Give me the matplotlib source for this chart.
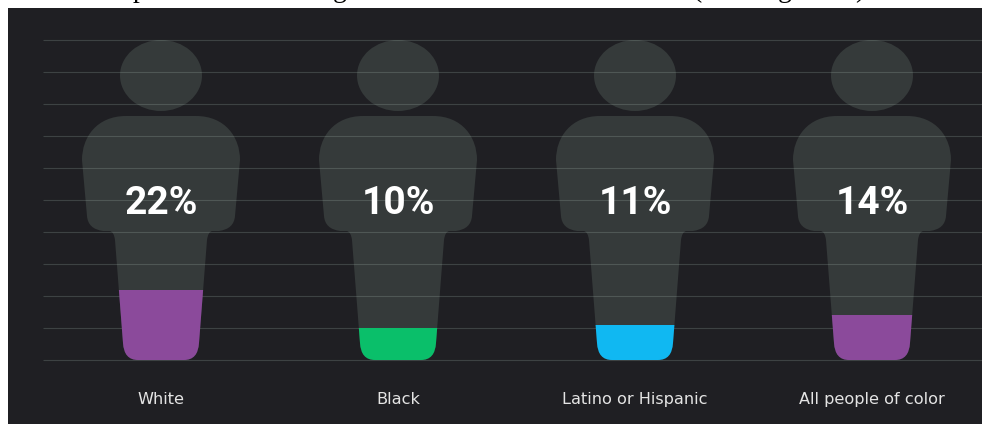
import numpy as np
import matplotlib
matplotlib.use("Agg")
import matplotlib.pyplot as plt
from matplotlib.path import Path
from matplotlib.patches import PathPatch

# Chart data
groups = ["White", "Black", "Latino or Hispanic", "All people of color"]
shares = [22, 10, 11, 14]
share_labels = ["22%", "10%", "11%", "14%"]
fill_colors = ["#8b4a9b", "#0abf6a", "#10b8f2", "#8b4a9b"]
grid_levels = [0, 10, 20, 30, 40, 50, 60, 70, 80, 90, 100]

BG = "#1f1f23"
BODY = "#353a3a"
W, H = 982, 424
# pixel scale of one category step and of one percent
STEP = 237.0
PCT = 3.2
X0 = 161.0
BASE = 360.0


def sx(px):
	return px / STEP


def sy(py):
	return (BASE - py) / PCT


def person(center):
	# outline given as offset from figure centre line (px) and height in image (px)
	pts = [
		(-35, 116, Path.MOVETO),
		(35, 116, Path.LINETO),
		(64, 116, Path.CURVE4), (79, 137, Path.CURVE4), (79, 160, Path.CURVE4),
		(74, 216, Path.LINETO),
		(73, 229, Path.CURVE3), (58, 231, Path.CURVE3),
		(51, 231, Path.LINETO),
		(47, 232, Path.CURVE3), (46, 240, Path.CURVE3),
		(38, 343, Path.LINETO),
		(37, 360, Path.CURVE3), (23, 360, Path.CURVE3),
		(-23, 360, Path.LINETO),
		(-37, 360, Path.CURVE3), (-38, 343, Path.CURVE3),
		(-46, 240, Path.LINETO),
		(-47, 232, Path.CURVE3), (-51, 231, Path.CURVE3),
		(-58, 231, Path.LINETO),
		(-73, 229, Path.CURVE3), (-74, 216, Path.CURVE3),
		(-79, 160, Path.LINETO),
		(-79, 137, Path.CURVE4), (-64, 116, Path.CURVE4), (-35, 116, Path.CURVE4),
		(-35, 116, Path.CLOSEPOLY),
	]
	verts = [(center + sx(p[0]), sy(p[1])) for p in pts]
	codes = [p[2] for p in pts]
	body = Path(verts, codes)
	head = Path.unit_circle()
	head = Path(head.vertices * [sx(41), 35.5 / PCT] + [center, sy(75.5)], head.codes)
	return Path.make_compound_path(body, head)


fig = plt.figure(figsize=(W / 100, H / 100), dpi=100, facecolor="white")

# Dark panel, cut off at the top and left by white
panel = fig.add_axes([8 / W, 0, (W - 8) / W, (H - 8) / H], facecolor=BG)
panel.set_xticks([])
panel.set_yticks([])
for s in panel.spines.values():
	s.set_visible(False)

ax = fig.add_axes([43 / W, (H - BASE) / H, (W - 43) / W, 320 / H])
ax.patch.set_alpha(0)
ax.axis("off")
ax.set_xlim((43 - X0) / STEP, (W - X0) / STEP)
ax.set_ylim(0, 100)

x = np.arange(len(groups))
for i in x:
	shape = PathPatch(person(i), facecolor=BODY, edgecolor="none", zorder=1)
	ax.add_patch(shape)
	bar = ax.bar(i, shares[i], width=0.5, color=fill_colors[i], zorder=3)[0]
	bar.set_clip_path(PathPatch(person(i), transform=ax.transData))
	ax.text(i, 49, share_labels[i], color="white", ha="center", va="center",
		fontsize=28, fontweight="bold", family="Roboto", zorder=4)
	ax.text(i, -12.2, groups[i], color="#e4e4e4", ha="center", va="center",
		fontsize=11.6, family="DejaVu Sans", zorder=4, clip_on=False)

ax.hlines(grid_levels, (43 - X0) / STEP, (W - X0) / STEP, color="#b8d0c4", alpha=0.2,
	linewidth=0.8, zorder=2, clip_on=False)

# Heading above the crop: only the descenders remain readable
for px, ch in [(140, "p"), (340, "g"), (697, "("), (785, "g"), (860, ")")]:
	fig.text(px / W, 1.0 + 3.0 / H, ch, color="black", fontsize=20, family="Liberation Serif",
		ha="center", va="baseline")

fig.savefig("out.png", dpi=100, facecolor="white")
